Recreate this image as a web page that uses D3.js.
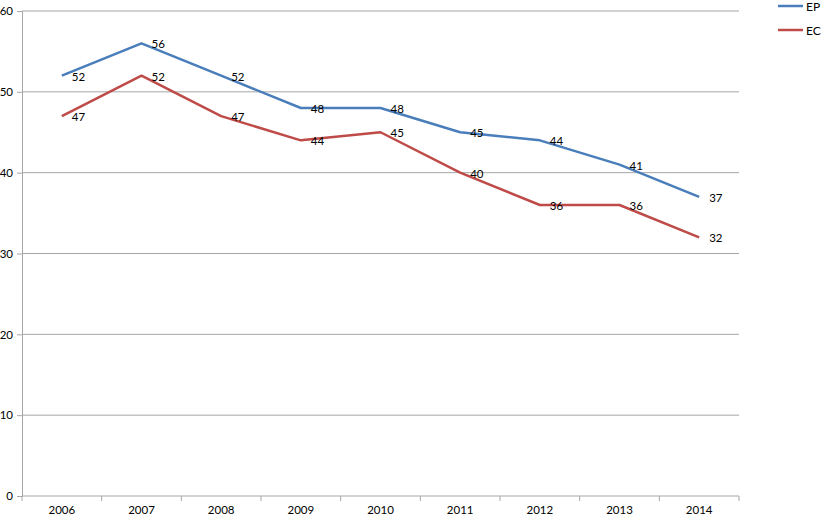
<!DOCTYPE html>
<meta charset="utf-8">
<script src="https://d3js.org/d3.v7.min.js"></script>
<style>
  body { margin: 0; background: #fff; }
  text { font-family: Lato, "Open Sans", sans-serif; font-size: 11.5px; fill: #000; }
</style>
<div id="chart"></div>
<script>
    // data
    var years = ["2006","2007","2008","2009","2010","2011","2012","2013","2014"];
    var ep = [52, 56, 52, 48, 48, 45, 44, 41, 37];
    var ec = [47, 52, 47, 44, 45, 40, 36, 36, 32];
    var yTicks = [0, 10, 20, 30, 40, 50, 60];

    var W = 821, H = 517;
    var margin = {top: 11, left: 22, right: 82, bottom: 21};
    var width = W - margin.left - margin.right,
        height = H - margin.top - margin.bottom;

    var svg = d3.select("#chart").append("svg")
        .attr("width", W).attr("height", H);
    var g = svg.append("g")
        .attr("transform", "translate(" + margin.left + "," + margin.top + ")");

    var x = d3.scaleBand().domain(years).range([0, width]);
    var y = d3.scaleLinear().domain([0, 60]).range([height, 0]);

    // gridlines
    g.selectAll(".grid").data(yTicks.filter(function(d){ return d > 0; }))
      .enter().append("line")
        .attr("x1", 0).attr("x2", width)
        .attr("y1", function(d){ return y(d); })
        .attr("y2", function(d){ return y(d); })
        .attr("stroke", "#a6a6a6").attr("stroke-width", 1);

    // y axis
    var yAxis = g.append("g")
        .call(d3.axisLeft(y).tickValues(yTicks).tickSize(5).tickPadding(4));
    yAxis.selectAll("path, line").attr("stroke", "#a6a6a6");
    yAxis.selectAll("text").style("font-size", "11.5px").attr("font-family", null);

    // x axis with ticks at band boundaries
    var xAxis = g.append("g").attr("transform", "translate(0," + height + ")");
    xAxis.append("line").attr("x1", 0).attr("x2", width)
        .attr("stroke", "#a6a6a6");
    var bounds = years.map(function(d){ return x(d); }).concat([width]);
    xAxis.selectAll(".tk").data(bounds).enter().append("line")
        .attr("x1", function(d){ return d; }).attr("x2", function(d){ return d; })
        .attr("y1", 0).attr("y2", 5).attr("stroke", "#a6a6a6");
    xAxis.selectAll(".lbl").data(years).enter().append("text")
        .attr("x", function(d){ return x(d) + x.bandwidth() / 2; })
        .attr("y", 18).attr("text-anchor", "middle")
        .text(function(d){ return d; });

    var line = d3.line()
        .x(function(d, i){ return x(years[i]) + x.bandwidth() / 2; })
        .y(function(d){ return y(d); });

    var series = [
      {name: "EP", values: ep, color: "#4a7ebb"},
      {name: "EC", values: ec, color: "#be4b48"}
    ];

    series.forEach(function(s) {
      g.append("path").datum(s.values)
        .attr("d", line)
        .attr("fill", "none")
        .attr("stroke", s.color)
        .attr("stroke-width", 2.5)
        .attr("stroke-linejoin", "round");
      g.selectAll(null).data(s.values).enter().append("text")
        .attr("x", function(d, i){ return x(years[i]) + x.bandwidth() / 2 + 10; })
        .attr("y", function(d){ return y(d) + 5; })
        .text(function(d){ return d; });
    });

    // legend
    var legend = svg.append("g").attr("transform", "translate(778,6)");
    series.forEach(function(s, i) {
      legend.append("line")
        .attr("x1", 0).attr("x2", 25)
        .attr("y1", i * 24).attr("y2", i * 24)
        .attr("stroke", s.color).attr("stroke-width", 2.5);
      legend.append("text")
        .attr("x", 28).attr("y", i * 24 + 5)
        .style("font-size", "12px")
        .text(s.name);
    });
</script>
